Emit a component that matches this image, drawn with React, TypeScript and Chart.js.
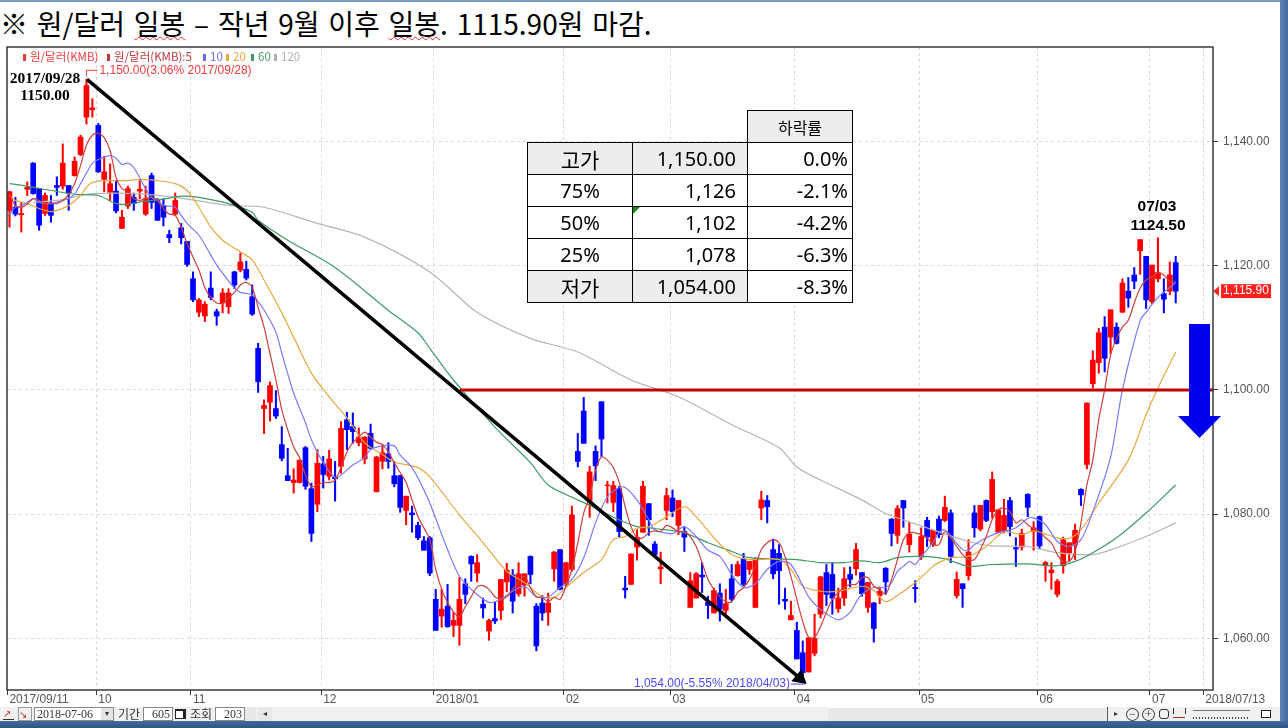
import { useEffect, useRef } from 'react';
import Chart from 'chart.js/auto';

// daily won/dollar candles
const opens = [
  1128.9, 1129.4, 1128.2, 1132.3, 1136.5, 1132.4, 1128.4, 1130.1, 1132.9, 1132.8,
  1132.9, 1134.5, 1137.9, 1143.9, 1145.1, 1142.6, 1133.9, 1131.8, 1132.0, 1126.0,
  1129.6, 1131.0, 1132.0, 1128.3, 1134.5, 1130.5, 1129.7, 1125.0, 1128.3, 1126.1,
  1123.9, 1117.9, 1112.5, 1111.9, 1116.4, 1112.6, 1114.0, 1113.4, 1119.0, 1119.3,
  1119.4, 1115.0, 1106.7, 1097.0, 1098.0, 1097.0, 1091.2, 1086.2, 1085.1, 1085.1,
  1090.7, 1084.1, 1081.6, 1088.1, 1086.1, 1086.0, 1087.7, 1095.2, 1094.1, 1091.5,
  1088.9, 1093.0, 1083.6, 1088.5, 1089.7, 1086.2, 1086.2, 1080.6, 1080.2, 1078.2,
  1075.7, 1076.2, 1066.3, 1063.6, 1065.2, 1062.1, 1062.1, 1068.8, 1073.2, 1070.5,
  1065.5, 1061.2, 1063.2, 1064.5, 1069.1, 1070.2, 1067.2, 1068.6, 1073.2, 1065.2,
  1065.7, 1064.2, 1071.2, 1074.3, 1068.7, 1071.1, 1090.1, 1096.6, 1082.1, 1090.1,
  1098.1, 1084.6, 1081.9, 1084.1, 1068.1, 1068.7, 1074.7, 1077.1, 1081.7, 1075.2,
  1071.2, 1080.6, 1082.6, 1078.2, 1077.2, 1065.0, 1066.5, 1070.2, 1065.8, 1064.1,
  1067.3, 1064.5, 1069.6, 1070.1, 1072.8, 1071.1, 1065.0, 1081.0, 1082.2, 1074.3,
  1073.7, 1066.3, 1063.0, 1061.3, 1057.7, 1054.6, 1057.6, 1063.9, 1070.6, 1070.3,
  1064.8, 1066.5, 1070.3, 1071.2, 1070.6, 1065.0, 1065.7, 1066.9, 1071.3, 1079.2,
  1076.6, 1082.2, 1075.1, 1068.2, 1073.1, 1079.0, 1075.1, 1079.2, 1079.0, 1080.2,
  1066.9, 1068.8, 1070.1, 1080.2, 1077.6, 1082.2, 1080.4, 1077.1, 1077.2, 1082.2,
  1074.6, 1074.7, 1083.2, 1077.2, 1079.6, 1071.7, 1070.6, 1067.1, 1071.7, 1073.8,
  1075.1, 1084.0, 1088.0, 1101.0, 1104.4, 1110.1, 1108.5, 1110.1, 1112.5, 1115.9,
  1118.5, 1122.4, 1121.5, 1114.2, 1117.9, 1115.5, 1115.9, 1120.5,
];
const closes = [
  1131.9, 1128.3, 1128.4, 1132.6, 1131.6, 1126.5, 1131.3, 1128.1, 1132.6, 1136.5,
  1131.7, 1136.8, 1140.7, 1149.0, 1145.4, 1135.1, 1135.1, 1133.2, 1128.8, 1127.8,
  1132.4, 1130.0, 1132.3, 1130.8, 1130.2, 1127.3, 1127.8, 1124.5, 1130.5, 1124.5,
  1120.2, 1114.5, 1114.5, 1113.8, 1114.9, 1111.9, 1115.6, 1115.6, 1116.9, 1120.6,
  1118.0, 1112.2, 1101.3, 1097.5, 1100.7, 1095.8, 1089.0, 1085.4, 1085.5, 1088.7,
  1084.5, 1076.9, 1088.2, 1086.4, 1088.9, 1085.7, 1093.8, 1093.6, 1093.3, 1092.4,
  1092.4, 1090.6, 1089.2, 1089.9, 1088.5, 1084.9, 1081.1, 1082.9, 1079.9, 1076.2,
  1074.2, 1070.5, 1061.3, 1064.7, 1061.9, 1062.9, 1066.3, 1067.1, 1072.0, 1072.2,
  1064.9, 1062.9, 1062.8, 1069.5, 1071.0, 1066.0, 1070.4, 1070.4, 1070.3, 1058.8,
  1064.1, 1065.7, 1073.9, 1067.9, 1072.2, 1079.9, 1088.5, 1091.4, 1086.8, 1087.8,
  1092.1, 1084.7, 1084.6, 1077.2, 1067.8, 1073.6, 1076.3, 1084.5, 1079.1, 1073.5,
  1071.5, 1083.0, 1080.4, 1082.2, 1076.3, 1069.3, 1070.4, 1069.9, 1065.3, 1067.7,
  1064.7, 1065.6, 1066.3, 1071.9, 1068.7, 1072.4, 1072.7, 1082.3, 1081.2, 1070.4,
  1070.9, 1066.0, 1063.7, 1056.7, 1054.5, 1060.1, 1060.0, 1069.9, 1067.1, 1066.5,
  1066.5, 1069.6, 1069.5, 1074.3, 1067.2, 1069.0, 1061.6, 1067.6, 1069.1, 1076.9,
  1080.9, 1081.0, 1076.8, 1068.0, 1076.4, 1076.3, 1077.4, 1076.7, 1081.1, 1073.2,
  1069.5, 1068.0, 1073.9, 1077.8, 1081.4, 1079.0, 1085.6, 1080.7, 1079.8, 1078.0,
  1074.4, 1076.9, 1081.1, 1077.8, 1074.9, 1072.2, 1071.0, 1069.2, 1075.9, 1075.4,
  1077.4, 1083.1, 1097.9, 1104.8, 1109.2, 1105.1, 1112.9, 1107.5, 1117.2, 1114.8,
  1117.5, 1124.2, 1114.5, 1120.1, 1118.9, 1114.6, 1118.5, 1115.9,
];
const highs = [
  1132.0, 1131.0, 1130.2, 1133.5, 1136.6, 1132.4, 1131.7, 1131.3, 1134.3, 1139.6,
  1132.9, 1137.5, 1141.0, 1150.0, 1146.9, 1142.9, 1137.6, 1136.4, 1133.7, 1128.9,
  1132.8, 1131.7, 1133.7, 1132.8, 1134.9, 1130.8, 1130.8, 1125.7, 1131.7, 1126.8,
  1123.9, 1119.0, 1114.7, 1114.2, 1119.0, 1113.0, 1116.3, 1116.3, 1119.1, 1122.0,
  1120.7, 1116.9, 1107.5, 1098.4, 1101.3, 1099.9, 1094.1, 1090.6, 1087.3, 1088.7,
  1090.9, 1085.0, 1090.4, 1089.3, 1090.3, 1088.5, 1094.9, 1096.4, 1096.3, 1093.9,
  1092.5, 1094.5, 1089.3, 1091.2, 1091.5, 1088.5, 1086.3, 1082.9, 1081.3, 1078.7,
  1076.4, 1076.4, 1067.9, 1067.9, 1068.7, 1064.2, 1069.8, 1069.6, 1073.3, 1073.5,
  1066.5, 1063.1, 1065.8, 1069.5, 1072.1, 1071.1, 1072.2, 1070.4, 1073.3, 1065.6,
  1066.9, 1067.3, 1074.0, 1074.3, 1072.2, 1081.3, 1093.0, 1098.8, 1087.7, 1091.0,
  1098.1, 1085.3, 1085.3, 1084.5, 1070.0, 1073.6, 1077.5, 1085.3, 1081.7, 1075.6,
  1073.9, 1084.2, 1083.9, 1082.2, 1078.0, 1070.6, 1070.6, 1072.2, 1066.8, 1068.1,
  1068.8, 1067.9, 1071.9, 1072.4, 1073.7, 1072.4, 1073.0, 1083.7, 1083.0, 1076.0,
  1075.1, 1068.1, 1066.0, 1062.6, 1059.6, 1060.1, 1063.9, 1070.0, 1071.9, 1072.2,
  1068.1, 1071.4, 1071.5, 1075.3, 1070.6, 1069.0, 1065.8, 1068.3, 1071.4, 1079.3,
  1081.4, 1082.2, 1078.7, 1069.3, 1077.8, 1079.5, 1077.5, 1079.7, 1082.9, 1080.7,
  1070.7, 1068.8, 1075.9, 1081.4, 1081.4, 1082.3, 1086.8, 1080.7, 1082.4, 1082.7,
  1076.2, 1077.6, 1083.3, 1078.8, 1079.7, 1072.4, 1072.2, 1069.5, 1076.3, 1075.4,
  1078.4, 1084.1, 1097.9, 1106.3, 1109.9, 1111.8, 1112.9, 1110.8, 1117.9, 1118.1,
  1119.7, 1124.2, 1121.5, 1120.1, 1124.5, 1117.9, 1120.6, 1121.5,
];
const lows = [
  1126.2, 1128.0, 1125.4, 1131.3, 1131.5, 1125.7, 1128.1, 1127.0, 1131.3, 1132.3,
  1128.9, 1134.4, 1137.7, 1142.8, 1143.9, 1135.0, 1131.9, 1130.5, 1128.5, 1126.0,
  1129.2, 1128.9, 1130.8, 1128.1, 1129.2, 1127.3, 1126.4, 1123.7, 1128.1, 1123.5,
  1119.9, 1114.2, 1111.8, 1111.0, 1114.5, 1110.4, 1112.4, 1112.3, 1116.3, 1119.0,
  1117.7, 1112.0, 1099.6, 1093.0, 1095.0, 1095.4, 1088.6, 1085.4, 1083.4, 1085.0,
  1084.0, 1075.6, 1080.4, 1084.2, 1085.5, 1082.1, 1086.6, 1090.4, 1091.4, 1091.0,
  1088.1, 1090.4, 1083.6, 1087.3, 1087.4, 1084.4, 1080.3, 1078.3, 1077.1, 1075.9,
  1074.2, 1070.1, 1061.3, 1061.8, 1061.8, 1060.3, 1058.9, 1065.6, 1069.2, 1069.1,
  1063.3, 1059.7, 1062.4, 1063.0, 1067.5, 1064.1, 1066.8, 1066.8, 1068.8, 1058.0,
  1062.9, 1062.1, 1069.2, 1067.8, 1068.4, 1070.8, 1087.6, 1091.4, 1079.5, 1085.4,
  1089.3, 1081.8, 1080.4, 1076.3, 1066.5, 1068.7, 1072.6, 1077.1, 1076.6, 1073.4,
  1068.8, 1079.1, 1079.6, 1076.7, 1074.0, 1065.0, 1066.5, 1067.4, 1063.2, 1064.1,
  1062.8, 1063.6, 1066.0, 1070.0, 1068.5, 1070.3, 1065.0, 1079.1, 1078.6, 1069.6,
  1065.5, 1064.7, 1063.0, 1056.7, 1054.0, 1054.6, 1057.2, 1063.3, 1065.3, 1063.9,
  1064.2, 1065.3, 1068.3, 1070.2, 1066.8, 1064.2, 1059.4, 1065.6, 1067.1, 1074.9,
  1075.3, 1077.9, 1073.9, 1065.8, 1072.7, 1074.8, 1074.8, 1076.2, 1078.8, 1072.2,
  1066.5, 1065.0, 1069.4, 1076.3, 1077.3, 1078.8, 1079.4, 1077.0, 1077.0, 1076.5,
  1071.6, 1074.2, 1079.6, 1074.2, 1074.4, 1069.2, 1067.9, 1066.7, 1070.5, 1072.4,
  1072.7, 1081.4, 1087.3, 1100.3, 1102.7, 1102.9, 1105.9, 1107.4, 1112.5, 1113.3,
  1116.3, 1118.6, 1113.1, 1113.9, 1117.4, 1112.4, 1115.3, 1114.0,
];

// moving averages, one value per bar for MA5, [bar, value] samples for the rest
const ma5 = [
  1131.5, 1129.7, 1129.4, 1129.9, 1130.8, 1130.5, 1130.0, 1130.0, 1130.0, 1130.5,
  1131.5, 1133.2, 1136.1, 1139.4, 1141.0, 1141.3, 1140.6, 1138.5, 1134.2, 1132.4,
  1132.0, 1130.8, 1130.5, 1130.8, 1131.0, 1130.5, 1129.2, 1128.3, 1128.1, 1126.2,
  1123.6, 1121.4, 1119.3, 1116.5, 1114.9, 1114.0, 1114.0, 1114.8, 1115.7, 1116.9,
  1117.3, 1116.5, 1113.3, 1110.1, 1105.9, 1101.6, 1096.8, 1093.6, 1090.8, 1089.1,
  1086.3, 1084.4, 1084.7, 1085.1, 1085.1, 1085.5, 1087.5, 1090.0, 1091.5, 1092.4,
  1093.2, 1092.4, 1091.6, 1091.2, 1090.0, 1088.3, 1086.7, 1085.1, 1082.3, 1079.6,
  1077.8, 1075.9, 1071.1, 1067.9, 1065.8, 1064.3, 1063.5, 1065.1, 1066.7, 1068.3,
  1068.5, 1067.9, 1066.7, 1066.3, 1066.7, 1067.9, 1069.2, 1070.0, 1068.2, 1066.7,
  1066.6, 1065.9, 1066.6, 1066.3, 1068.4, 1071.1, 1075.4, 1080.2, 1082.8, 1087.1,
  1089.2, 1088.7, 1087.5, 1085.1, 1081.2, 1078.0, 1076.2, 1076.2, 1077.0, 1077.3,
  1077.2, 1078.2, 1077.8, 1077.2, 1077.2, 1076.4, 1074.8, 1072.2, 1069.5, 1067.9,
  1066.7, 1065.9, 1065.9, 1067.4, 1068.2, 1069.5, 1071.6, 1074.3, 1075.4, 1075.9,
  1075.4, 1073.2, 1070.0, 1066.3, 1062.7, 1060.2, 1060.2, 1061.9, 1064.2, 1066.3,
  1067.4, 1068.2, 1068.7, 1068.7, 1069.8, 1069.8, 1068.4, 1067.9, 1067.1, 1069.5,
  1072.7, 1075.9, 1077.0, 1077.0, 1076.7, 1076.2, 1075.1, 1075.1, 1077.2, 1076.2,
  1074.8, 1073.5, 1072.7, 1072.7, 1074.3, 1076.4, 1079.1, 1080.7, 1081.0, 1080.4,
  1078.6, 1079.1, 1078.3, 1077.7, 1077.2, 1076.2, 1075.4, 1073.5, 1072.4, 1072.4,
  1074.0, 1078.6, 1084.7, 1088.7, 1095.2, 1100.0, 1105.6, 1108.3, 1110.1, 1111.2,
  1114.0, 1116.4, 1117.7, 1118.2, 1118.8, 1118.5, 1117.5, 1117.3,
];
const ma10: [number, number][] = [
  [0, 1128.3], [1, 1129.4], [2, 1129.6], [3, 1130.2], [4, 1130.8], [5, 1130.2], [7, 1130.0], [9, 1130.5],
  [10, 1130.8], [11, 1131.5], [12, 1133.2], [13, 1134.9], [14, 1136.5], [15, 1137.1], [17, 1137.7], [18, 1137.3],
  [19, 1136.3], [20, 1136.5], [21, 1135.8], [23, 1132.4], [24, 1131.0], [25, 1130.5], [26, 1129.7], [28, 1129.4],
  [29, 1128.1], [30, 1126.8], [32, 1124.9], [34, 1121.7], [35, 1120.1], [36, 1118.8], [38, 1116.4], [39, 1115.7],
  [41, 1115.3], [42, 1114.2], [43, 1112.9], [45, 1109.3], [46, 1105.9], [48, 1099.5], [50, 1094.7], [51, 1092.0],
  [53, 1088.3], [55, 1085.9], [56, 1086.3], [58, 1087.9], [60, 1089.1], [61, 1090.4], [63, 1091.0], [65, 1091.0],
  [66, 1089.5], [68, 1087.5], [70, 1083.9], [71, 1081.8], [74, 1074.3], [76, 1070.0], [78, 1067.9], [81, 1065.8],
  [83, 1066.3], [85, 1067.6], [87, 1068.4], [89, 1066.7], [91, 1066.7], [93, 1068.2], [95, 1069.5], [97, 1073.0],
  [99, 1078.6], [101, 1082.8], [103, 1084.3], [104, 1084.3], [106, 1082.3], [108, 1079.1], [109, 1077.5], [112, 1076.9],
  [114, 1078.0], [116, 1076.4], [118, 1074.2], [120, 1073.2], [122, 1070.3], [124, 1068.2], [126, 1068.8], [128, 1071.1],
  [130, 1072.4], [132, 1071.9], [135, 1066.7], [137, 1064.7], [140, 1063.0], [142, 1064.2], [143, 1065.8], [144, 1067.1],
  [146, 1068.2], [148, 1068.2], [149, 1069.0], [150, 1070.8], [151, 1071.6], [152, 1072.4], [153, 1071.9], [154, 1073.2],
  [155, 1074.3], [156, 1075.4], [157, 1077.0], [158, 1077.5], [159, 1076.5], [161, 1074.3], [162, 1074.2], [163, 1075.1],
  [165, 1076.2], [167, 1077.0], [169, 1077.5], [170, 1077.8], [172, 1079.3], [173, 1079.4], [175, 1078.3], [177, 1075.6],
  [179, 1074.8], [181, 1075.9], [183, 1080.4], [186, 1089.2], [188, 1100.0], [191, 1111.2], [192, 1112.5], [194, 1114.9],
  [196, 1116.5], [197, 1117.3],
];
const ma20: [number, number][] = [
  [0, 1131.3], [1, 1130.5], [3, 1130.0], [5, 1129.2], [7, 1128.7], [8, 1128.9], [10, 1129.7], [12, 1131.3],
  [13, 1132.6], [14, 1133.4], [16, 1133.7], [20, 1133.7], [22, 1133.9], [25, 1133.7], [28, 1133.2], [30, 1132.1],
  [32, 1129.4], [34, 1126.2], [36, 1124.1], [38, 1122.8], [41, 1120.9], [43, 1117.7], [46, 1112.4], [48, 1108.5],
  [51, 1102.7], [54, 1098.9], [57, 1095.5], [60, 1091.5], [63, 1089.6], [65, 1088.4], [69, 1087.5], [71, 1086.0],
  [76, 1079.9], [80, 1075.4], [84, 1070.8], [87, 1069.0], [90, 1066.7], [92, 1066.6], [94, 1068.2], [97, 1070.6],
  [100, 1072.7], [102, 1075.9], [104, 1076.4], [106, 1077.7], [108, 1078.0], [110, 1079.0], [114, 1081.2], [116, 1079.6],
  [119, 1076.2], [122, 1073.5], [125, 1072.7], [130, 1072.7], [132, 1071.1], [134, 1068.4], [137, 1067.6], [140, 1067.6],
  [144, 1068.4], [146, 1067.7], [148, 1065.9], [150, 1066.9], [153, 1069.0], [156, 1071.6], [157, 1072.2], [159, 1073.0],
  [162, 1073.2], [165, 1074.8], [168, 1077.2], [171, 1076.7], [173, 1077.3], [177, 1076.2], [179, 1076.1], [181, 1077.5],
  [184, 1081.8], [189, 1088.7], [192, 1096.0], [194, 1100.3], [197, 1106.1],
];
const ma60: [number, number][] = [
  [0, 1133.2], [3, 1132.8], [7, 1132.1], [11, 1131.5], [15, 1131.3], [18, 1130.0], [20, 1129.9], [23, 1130.4],
  [26, 1130.7], [29, 1131.2], [32, 1131.0], [37, 1130.0], [41, 1128.6], [42, 1127.3], [47, 1124.1], [55, 1119.7],
  [64, 1112.8], [69, 1109.2], [71, 1106.7], [75, 1101.6], [82, 1094.0], [88, 1088.3], [91, 1084.7], [96, 1082.3],
  [99, 1081.0], [103, 1079.1], [106, 1078.0], [109, 1077.7], [114, 1077.0], [118, 1075.4], [122, 1074.0], [125, 1073.0],
  [130, 1072.8], [133, 1072.7], [137, 1072.2], [141, 1072.2], [144, 1072.5], [147, 1072.2], [150, 1073.0], [154, 1073.2],
  [158, 1072.8], [162, 1071.6], [166, 1071.9], [172, 1072.0], [177, 1071.7], [180, 1072.4], [183, 1073.8], [187, 1076.2],
  [192, 1080.2], [197, 1084.7],
];
const ma120: [number, number][] = [
  [4, 1130.2], [8, 1130.5], [12, 1131.3], [14, 1131.6], [21, 1131.6], [28, 1131.0], [37, 1129.7], [43, 1129.4],
  [52, 1126.8], [60, 1124.6], [71, 1119.0], [79, 1112.5], [88, 1108.3], [96, 1106.1], [105, 1101.6], [113, 1098.9],
  [122, 1094.4], [130, 1090.7], [133, 1087.6], [137, 1085.5], [144, 1082.3], [148, 1080.1], [155, 1077.8], [162, 1075.6],
  [166, 1074.9], [172, 1074.8], [177, 1073.8], [183, 1073.5], [187, 1074.6], [192, 1076.4], [197, 1078.6],
];

const monthBars = [0, 15, 31, 53, 72, 94, 112, 133, 154, 174, 193, 202];
const monthLabels = ['2017/09/11', '10', '11', '12', '2018/01', '02', '03', '04', '05', '06', '07', '2018/07/13'];

const trendBars = [13.1, 133.5];
const trendValues = [1150, 1053.6];
const resistanceBars = [76.1, 203.3];
const resistanceValues = [1100, 1100];

const legendLabels = ['원/달러(KMB)', '원/달러(KMB):5', '10', '20', '60', '120'];
const legendColors = ['#f03c3c', '#c03838', '#6a6af0', '#e8a840', '#3f9a66', '#b0b0b0'];

const tableLabels = ['고가', '75%', '50%', '25%', '저가'];
const tablePrices = ['1,150.00', '1,126', '1,102', '1,078', '1,054.00'];
const tableRates = ['0.0%', '-2.1%', '-4.2%', '-6.3%', '-8.3%'];

const UP = '#ff0000';
const DOWN = '#0000ff';
const KR = '"Noto Sans CJK KR", sans-serif';
const AXIS_FONT = '"Liberation Sans", sans-serif';

const toPoints = (pts: [number, number][]) => pts.map(([x, y]) => ({ x, y }));
const maLine = (data: { x: number; y: number }[], color: string, order: number) => ({
  type: 'line' as const,
  data,
  borderColor: color,
  borderWidth: 1.2,
  pointRadius: 0,
  tension: 0.3,
  order,
});

// text and marks around the candles
const overlay = {
  id: 'overlay',
  afterDatasetsDraw(chart: any) {
    const { ctx, chartArea: a, scales } = chart;
    const px = (bar: number) => scales.x.getPixelForValue(bar);
    const py = (v: number) => scales.y.getPixelForValue(v);
    ctx.save();

    // frame
    ctx.strokeStyle = '#3a3a3a';
    ctx.lineWidth = 1.5;
    ctx.strokeRect(a.left, a.top, a.right - a.left, a.bottom - a.top);

    // legend row
    const squareX = [23, 107, 203, 226, 251, 274];
    ctx.font = `11.5px ${KR}`;
    ctx.textBaseline = 'middle';
    ctx.textAlign = 'left';
    legendLabels.forEach((label, i) => {
      ctx.fillStyle = legendColors[i];
      ctx.fillRect(squareX[i], 54, 3, 7);
      ctx.fillText(label, squareX[i] + 7, 57);
    });

    // high label
    const hx = px(13);
    const hy = py(1150);
    ctx.strokeStyle = '#f03c3c';
    ctx.lineWidth = 1;
    ctx.beginPath();
    ctx.moveTo(hx, hy - 3);
    ctx.lineTo(hx, hy - 9);
    ctx.lineTo(hx + 11, hy - 9);
    ctx.stroke();
    ctx.fillStyle = '#f03c3c';
    ctx.font = `12px ${AXIS_FONT}`;
    ctx.fillText('1,150.00(3.06% 2017/09/28)', hx + 13, hy - 9);

    // low label
    ctx.fillStyle = '#4a4af0';
    ctx.textAlign = 'right';
    ctx.fillText('1,054.00(-5.55% 2018/04/03)', 790, 684);
    ctx.strokeStyle = '#4a4af0';
    ctx.beginPath();
    ctx.moveTo(791, 684);
    ctx.lineTo(805, 684);
    ctx.stroke();

    // last price tag
    const ty = py(closes[closes.length - 1]);
    ctx.fillStyle = '#ff2020';
    ctx.fillRect(1221, ty - 7, 50, 14);
    ctx.beginPath();
    ctx.moveTo(1213, ty);
    ctx.lineTo(1219, ty - 5);
    ctx.lineTo(1219, ty + 5);
    ctx.fill();
    ctx.fillStyle = '#ffffff';
    ctx.textAlign = 'center';
    ctx.fillText('1,115.90', 1246, ty);

    // typed-on callouts
    ctx.fillStyle = '#000';
    ctx.font = 'bold 15.5px "Liberation Serif", serif';
    ctx.fillText('2017/09/28', 45, 79);
    ctx.fillText('1150.00', 45, 96);
    ctx.font = `bold 15.5px ${AXIS_FONT}`;
    ctx.fillText('07/03', 1157, 207);
    ctx.fillText('1124.50', 1158, 226);
    ctx.restore();
  },
};

const toolText = { position: 'absolute', top: 707, height: 14, lineHeight: '14px', fontSize: 12, color: '#333', whiteSpace: 'nowrap' } as const;
const toolBox = { ...toolText, background: '#fff', border: '1px solid #888', boxSizing: 'border-box', textAlign: 'right', paddingRight: 2, lineHeight: '12px' } as const;

const App = () => {
  const chartRef = useRef<HTMLCanvasElement>(null);

  useEffect(() => {
    if (!chartRef.current) return;
    const colors = opens.map((o, i) => (closes[i] >= o ? UP : DOWN));

    const chart = new Chart(chartRef.current, {
      type: 'bar',
      data: {
        datasets: [
          {
            data: lows.map((l, i) => ({ x: i, y: [l, highs[i]] })),
            backgroundColor: colors,
            barThickness: 1.4,
            grouped: false,
            order: 9,
          },
          {
            data: opens.map((o, i) => ({ x: i, y: [o, closes[i]] })),
            backgroundColor: colors,
            barThickness: 5,
            grouped: false,
            order: 8,
          },
          maLine(toPoints(ma120), '#b5b5b5', 7),
          maLine(toPoints(ma60), '#3f9a66', 6),
          maLine(toPoints(ma20), '#e8a840', 5),
          maLine(toPoints(ma10), '#7a7af8', 4),
          maLine(ma5.map((y, x) => ({ x, y })), '#cc4040', 3),
          {
            type: 'line',
            data: resistanceBars.map((x, i) => ({ x, y: resistanceValues[i] })),
            borderColor: '#c00000',
            borderWidth: 3,
            pointRadius: 0,
            order: 2,
          },
          {
            type: 'line',
            data: trendBars.map((x, i) => ({ x, y: trendValues[i] })),
            borderColor: '#000',
            borderWidth: 3.5,
            pointRadius: [0, 5.5],
            pointStyle: 'triangle',
            pointRotation: 130,
            pointBackgroundColor: '#000',
            pointBorderColor: '#000',
            order: 1,
          },
        ] as any,
      },
      options: {
        responsive: false,
        animation: false,
        layout: { autoPadding: false, padding: { top: 47, left: 7, right: 0, bottom: 0 } },
        plugins: { legend: { display: false }, tooltip: { enabled: false } },
        scales: {
          x: {
            type: 'linear',
            min: -0.42,
            max: 203.3,
            offset: false,
            grid: { offset: false, color: '#d8d8d8', tickColor: '#3a3a3a', tickLength: 5 },
            border: { display: false, dash: [3, 3] },
            afterBuildTicks: (scale: any) => {
              scale.ticks = monthBars.map((b) => ({ value: b - 0.35 }));
            },
            afterFit: (scale: any) => {
              scale.height = 38;
            },
            ticks: {
              autoSkip: false,
              maxRotation: 0,
              align: 'start',
              labelOffset: 2,
              padding: -3,
              color: '#555',
              font: { family: AXIS_FONT, size: 12 },
              callback: (_v: any, i: number) => monthLabels[i],
            },
          },
          y: {
            position: 'right',
            min: 1051.7,
            max: 1155.2,
            grid: { color: '#d8d8d8', tickColor: '#3a3a3a', tickLength: 5 },
            border: { display: false, dash: [3, 3] },
            afterFit: (scale: any) => {
              scale.width = 75;
            },
            ticks: {
              stepSize: 20,
              includeBounds: false,
              padding: 5,
              color: '#555',
              font: { family: AXIS_FONT, size: 12 },
              callback: (v: any) => Number(v).toLocaleString('en-US', { minimumFractionDigits: 2 }),
            },
          },
        },
      } as any,
      plugins: [overlay as any],
    });

    return () => chart.destroy();
  }, []);

  const cell = { border: '1.8px solid #000', height: 32, padding: '0 4px', boxSizing: 'border-box', fontFamily: '"Noto Sans", sans-serif', fontSize: 20, lineHeight: '28px' } as const;
  const gray = '#ededed';

  return (
    <div style={{ position: 'relative', width: 1288, height: 728, overflow: 'hidden', background: '#fff' }}>
      <style>{'body{margin:0}'}</style>
      <div style={{ position: 'absolute', left: 0, top: 0, width: 1288, height: 1.5, background: '#7c9cc4' }} />
      <div style={{ position: 'absolute', left: 0, top: 3, fontFamily: KR, fontSize: 28, lineHeight: '40px', wordSpacing: 2.5, color: '#000', whiteSpace: 'nowrap' }}>
        ※ 원/달러 <span style={{ textDecoration: 'underline wavy #e03030 1px' }}>일봉</span> – 작년 9월 이후{' '}
        <span style={{ textDecoration: 'underline wavy #e03030 1px' }}>일봉</span>. 1115.90원 마감.
      </div>

      <canvas ref={chartRef} width={1288} height={728} style={{ position: 'absolute', left: 0, top: 0, display: 'block' }} />

      <table style={{ position: 'absolute', left: 527, top: 110, width: 325, borderCollapse: 'collapse', tableLayout: 'fixed', background: 'transparent' }}>
        <colgroup>
          <col style={{ width: 105 }} />
          <col style={{ width: 115 }} />
          <col style={{ width: 105 }} />
        </colgroup>
        <tbody>
          <tr>
            <td colSpan={2} />
            <td style={{ ...cell, background: gray, textAlign: 'center', fontFamily: KR, fontSize: 16 }}>하락률</td>
          </tr>
          {tableLabels.map((label, i) => {
            const edge = i === 0 || i === tableLabels.length - 1;
            const bg = edge ? gray : '#fff';
            return (
              <tr key={label}>
                <td style={{ ...cell, background: bg, textAlign: 'center', fontFamily: edge ? KR : cell.fontFamily, fontSize: edge ? 21 : 20 }}>{label}</td>
                <td style={{ ...cell, background: bg, textAlign: 'right', paddingRight: 11 }}>{tablePrices[i]}</td>
                <td style={{ ...cell, background: '#fff', textAlign: 'right' }}>{tableRates[i]}</td>
              </tr>
            );
          })}
        </tbody>
      </table>
      <div style={{ position: 'absolute', left: 633, top: 207, width: 7, height: 7, background: '#1a8a1a', clipPath: 'polygon(0 0, 100% 0, 0 100%)' }} />

      {/* blue down arrow */}
      <div
        style={{
          position: 'absolute',
          left: 1178,
          top: 324,
          width: 43,
          height: 114,
          background: '#0000f0',
          clipPath: 'polygon(11px 0, 32px 0, 32px 92px, 43px 92px, 21.5px 114px, 0 92px, 11px 92px)',
        }}
      />

      {/* toolbar along the bottom of the window */}
      <div style={{ position: 'absolute', left: 0, top: 707, width: 1280, height: 14, background: '#f0f0f0' }} />
      <div style={{ ...toolText, left: 3, width: 11, borderBottom: '1px solid #333', height: 12, color: '#c03030', fontSize: 10 }}>↗</div>
      <div style={{ ...toolText, left: 18, width: 12, border: '1px solid #999', height: 12, color: '#c03030', fontSize: 10 }}>↘</div>
      <div style={{ ...toolBox, left: 34, width: 80, textAlign: 'left', paddingLeft: 2 }}>2018-07-06</div>
      <div style={{ ...toolText, left: 101, width: 12, height: 12, top: 708, background: '#e4e4e4', textAlign: 'center', fontSize: 8, lineHeight: '12px' }}>▾</div>
      <div style={{ ...toolText, left: 118, fontFamily: KR }}>기간</div>
      <div style={{ ...toolBox, left: 143, width: 30 }}>605</div>
      <div style={{ position: 'absolute', left: 175, top: 709, width: 11, height: 10, background: '#222' }} />
      <div style={{ position: 'absolute', left: 176, top: 711, width: 7, height: 7, background: '#fff' }} />
      <div style={{ ...toolText, left: 190, fontFamily: KR }}>조회</div>
      <div style={{ ...toolBox, left: 215, width: 30 }}>203</div>
      <div style={{ position: 'absolute', left: 245, top: 707, width: 11, height: 14, background: '#e8e8e8', borderBottom: '1px solid #888' }} />
      <div style={{ ...toolText, left: 258, width: 14, background: '#e8e8e8', textAlign: 'center', fontSize: 8 }}>◂</div>
      <div style={{ position: 'absolute', left: 828, top: 707, width: 278, height: 13, background: '#e8e8e8', borderTop: '1px solid #fff', borderBottom: '1px solid #aaa' }} />
      <div style={{ ...toolText, left: 1107, width: 16, background: '#f0f0f0', borderLeft: '1px solid #555', textAlign: 'center', fontSize: 8 }}>▸</div>
      <div style={{ ...toolText, left: 1126, width: 11, height: 11, top: 708, border: '1px solid #333', borderRadius: 7, textAlign: 'center', lineHeight: '10px' }}>−</div>
      <div style={{ ...toolText, left: 1142, width: 11, height: 11, top: 708, border: '1px solid #333', borderRadius: 7, textAlign: 'center', lineHeight: '10px' }}>+</div>
      <div style={{ position: 'absolute', left: 1159, top: 709, width: 10, height: 10, border: '1px solid #333', borderRadius: 3, boxSizing: 'border-box' }} />
      <div style={{ position: 'absolute', left: 1173, top: 708, width: 11, height: 6, borderLeft: '1px solid #333', borderRight: '1px solid #333' }} />
      <div style={{ position: 'absolute', left: 1173, top: 717, width: 12, height: 1, background: '#a03030' }} />
      <div style={{ position: 'absolute', left: 1193, top: 710, width: 57, height: 1, background: '#777' }} />
      <div style={{ position: 'absolute', left: 1193, top: 717, width: 57, height: 2, background: 'repeating-linear-gradient(90deg,#444 0 1px,transparent 1px 3px)' }} />
      <div style={{ position: 'absolute', left: 1261, top: 710, width: 10, height: 8, border: '1px solid #222', boxSizing: 'border-box', background: 'linear-gradient(#fff 42%,#222 42% 58%,#fff 58%)' }} />

      {/* window frame on the right and at the bottom */}
      <div style={{ position: 'absolute', left: 1280, top: 0, width: 8, height: 728, background: 'linear-gradient(90deg,#5f86b8,#46699a)' }} />
      <div style={{ position: 'absolute', left: 0, top: 721, width: 1288, height: 7, background: 'linear-gradient(#44699b,#2f5487)' }} />
    </div>
  );
};

export default App;
